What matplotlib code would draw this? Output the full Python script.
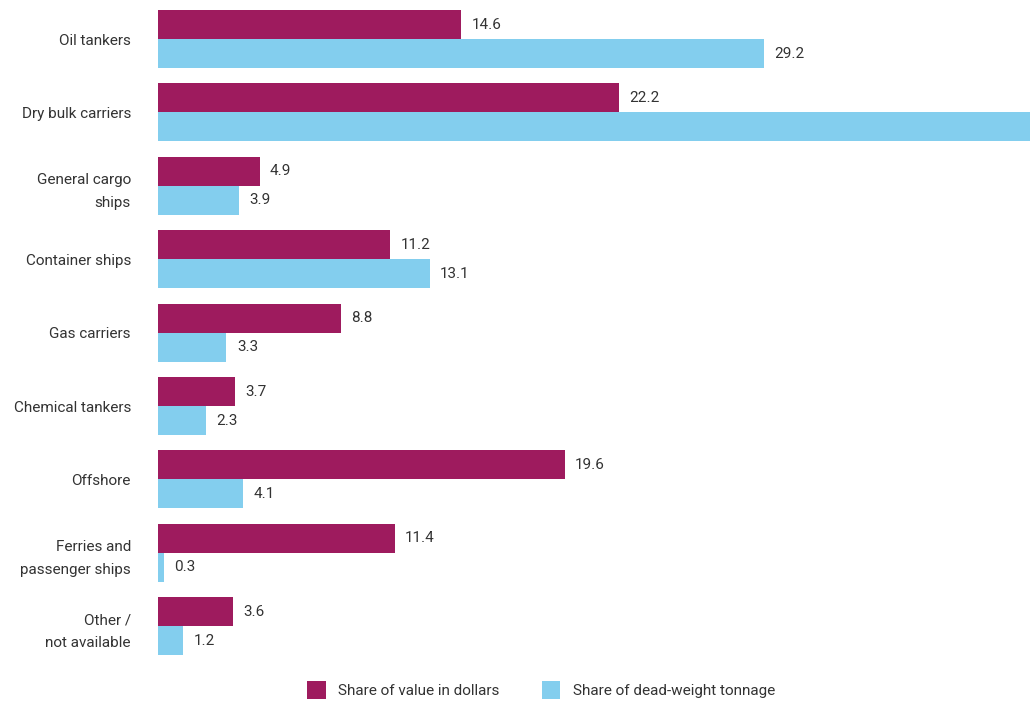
import numpy as np
import matplotlib
matplotlib.use("Agg")
import matplotlib.pyplot as plt

plt.rcParams['font.family'] = ['Roboto', 'DejaVu Sans']

categories = ["Oil tankers", "Dry bulk carriers", "General cargo\nships", "Container ships",
              "Gas carriers", "Chemical tankers", "Offshore", "Ferries and\npassenger ships",
              "Other /\nnot available"]
value_share = [14.6, 22.2, 4.9, 11.2, 8.8, 3.7, 19.6, 11.4, 3.6]
dwt_share = [29.2, 42.6, 3.9, 13.1, 3.3, 2.3, 4.1, 0.3, 1.2]
# dry bulk tonnage bar runs off the chart in the original, no label shown
dwt_labels = ["29.2", "", "3.9", "13.1", "3.3", "2.3", "4.1", "0.3", "1.2"]

c_value = "#9e1b5e"
c_dwt = "#83ceee"
txt = "#333333"
fs = 11

fig = plt.figure(figsize=(10.3, 7.04), dpi=100)
ax = fig.add_axes([158 / 1030, 44 / 704, 872 / 1030, 656 / 704])

y = np.arange(len(categories))
h = 0.395
ax.barh(y - h / 2, value_share, height=h, color=c_value, label="Share of value in dollars")
ax.barh(y + h / 2, dwt_share, height=h, color=c_dwt, label="Share of dead-weight tonnage")

for i in range(len(categories)):
    ax.text(value_share[i] + 0.5, y[i] - h / 2, f"{value_share[i]:.1f}", va="center",
            ha="left", fontsize=fs, color=txt)
    if dwt_labels[i]:
        ax.text(dwt_share[i] + 0.5, y[i] + h / 2, dwt_labels[i], va="center",
                ha="left", fontsize=fs, color=txt)

ax.set_xlim(0, 42.02)
ax.set_ylim(8.46, -0.477)
ax.set_yticks(y)
ax.set_yticklabels(categories, fontsize=fs, color=txt, linespacing=1.75)
ax.tick_params(axis="y", length=0, pad=19.5)
ax.set_xticks([])
for s in ax.spines.values():
    s.set_visible(False)

fig.legend(loc="center", bbox_to_anchor=(541 / 1030, 1 - 690 / 704), ncol=2, frameon=False,
           fontsize=fs, handlelength=1.2, handleheight=1.4, handletextpad=0.8,
           columnspacing=2.8, labelcolor=txt)

fig.savefig("out.png", dpi=100)
